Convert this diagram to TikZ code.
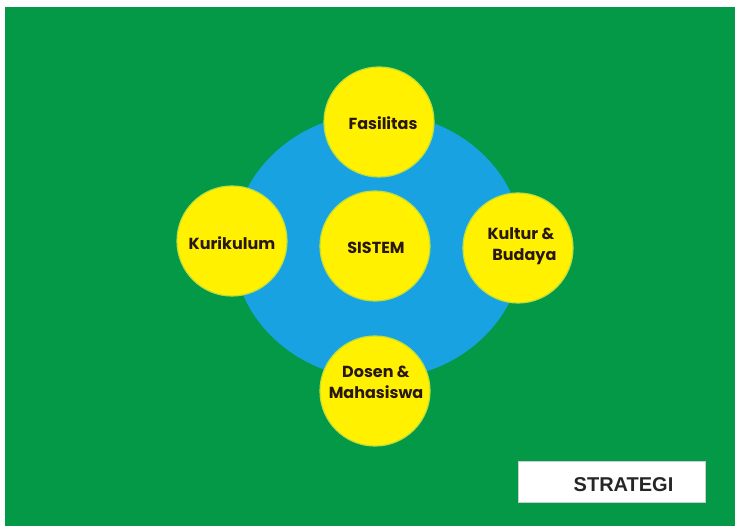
\documentclass[tikz,border=0pt]{standalone}
\usetikzlibrary{shapes.geometric}
\usepackage{fontspec}
\newfontfamily\circfont{Poppins}
\newfontfamily\boxfont{Liberation Sans}
\definecolor{bggreen}{RGB}{4,153,70}
\definecolor{ellblue}{RGB}{24,162,226}
\definecolor{circyellow}{RGB}{255,241,0}
\definecolor{circedge}{RGB}{190,222,60}
\definecolor{txtdark}{RGB}{40,24,16}
\begin{document}
\begin{tikzpicture}[x=1pt,y=-1pt,
  circ/.style={circle,fill=circyellow,draw=circedge,line width=1.2pt,minimum size=110pt,inner sep=0pt},
  ctext/.style={font=\circfont\bfseries\fontsize{16}{21}\selectfont,text=txtdark,align=center}]
\useasboundingbox (0,0) rectangle (735,526);
\fill[white] (0,0) rectangle (735,526);
\fill[bggreen] (5,7) rectangle (735,526);
\node[ellipse,fill=ellblue,minimum width=290pt,minimum height=266pt,inner sep=0pt] (ell) at (378,246) {};
\node[circ] (fas) at (379,122) {};
\node[circ] (kur) at (232,241) {};
\node[circ] (sis) at (375,246) {};
\node[circ] (kul) at (518,248) {};
\node[circ] (dos) at (375,391) {};
\node[ctext] at (383,123) {Fasilitas};
\node[ctext] at (232,243) {Kurikulum};
\node[ctext] at (376,248) {SISTEM};
\node[ctext] at (521,246) {Kultur \&\\\ \ Budaya};
\node[ctext] at (376,382) {Dosen \&\\Mahasiswa};
\node[draw=gray!40,fill=white,minimum width=187pt,minimum height=41pt,inner sep=0pt] (box) at (611.5,481.5) {};
\node[font=\boxfont\bfseries\fontsize{20}{24}\selectfont,text=black!85] (strat) at (623.5,485) {STRATEGI};
\end{tikzpicture}
\end{document}
